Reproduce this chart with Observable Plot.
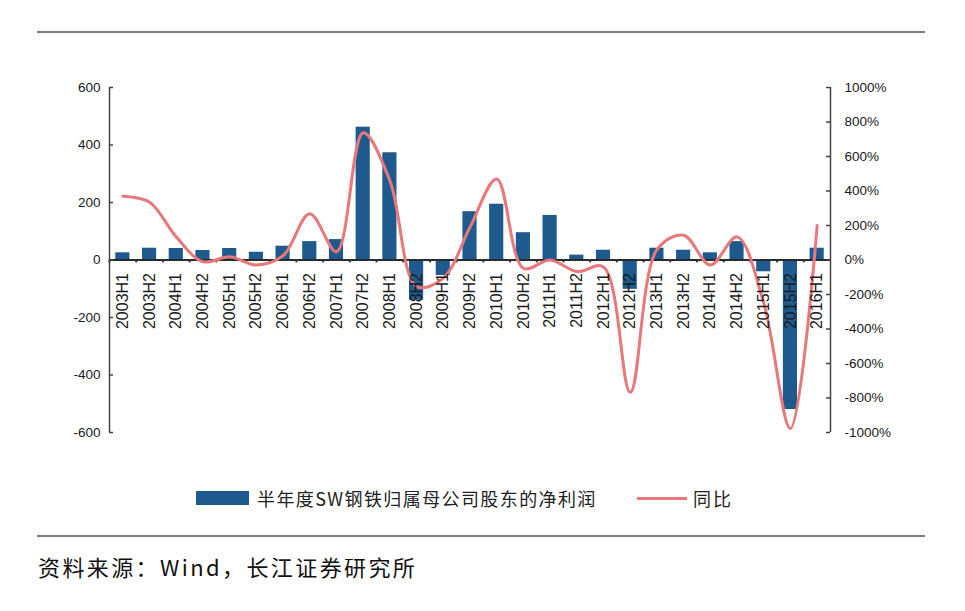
<!DOCTYPE html>
<html>
<head>
<meta charset="utf-8">
<script src="https://cdn.jsdelivr.net/npm/d3@7"></script>
<script src="https://cdn.jsdelivr.net/npm/@observablehq/plot@0.6"></script>
<style>
  html, body { margin: 0; padding: 0; background: #fff; }
  #page { position: relative; width: 965px; height: 611px; overflow: hidden; font-family: "Liberation Sans", Arial, sans-serif; }
  .hline { position: absolute; left: 37px; width: 888px; height: 2px; background: #7d7d7d; }
  #chart { position: absolute; left: 0; top: 40px; }
  #legend { position: absolute; top: 487px; left: 0; width: 965px; height: 24px; font-family: "Noto Sans CJK SC", sans-serif; color: #222; }
  .sw-bar { position: absolute; left: 196px; top: 4px; width: 53px; height: 14px; background: #1f5a8e; }
  .lg-text1 { position: absolute; left: 257px; top: -1px; font-size: 18px; letter-spacing: 1.4px; line-height: 24px; }
  .sw-line { position: absolute; left: 637px; top: 10px; width: 50px; height: 3px; background: #e8787a; }
  .lg-text2 { position: absolute; left: 693px; top: -1px; font-size: 18px; letter-spacing: 2px; line-height: 24px; }
  #source { position: absolute; left: 38px; top: 551px; font-family: "Noto Sans CJK SC", sans-serif; font-size: 22px; letter-spacing: 2.4px; color: #111; line-height: 30px; }
</style>
</head>
<body>
<div id="page">
  <div class="hline" style="top:31px"></div>
  <div id="chart"></div>
  <div id="legend">
    <div class="sw-bar"></div>
    <div class="lg-text1">半年度SW钢铁归属母公司股东的净利润</div>
    <div class="sw-line"></div>
    <div class="lg-text2">同比</div>
  </div>
  <div class="hline" style="top:535px"></div>
  <div id="source">资料来源：Wind，长江证券研究所</div>
</div>
<script>
const categories = ["2003H1","2003H2","2004H1","2004H2","2005H1","2005H2","2006H1","2006H2","2007H1","2007H2","2008H1","2008H2","2009H1","2009H2","2010H1","2010H2","2011H1","2011H2","2012H1","2012H2","2013H1","2013H2","2014H1","2014H2","2015H1","2015H2","2016H1"];
const profit = [25, 41, 40, 33, 40, 27, 48, 64, 71, 462, 373, -140, -54, 168, 194, 95, 155, 17, 34, -102, 41, 34, 25, 64, -41, -520, 41];
const yoy = [370, 335, 134, -10, 19, -29, 25, 268, 48, 738, 460, -153, -105, 190, 470, -48, 0, -67, -40, -767, 60, 144, -29, 134, -250, -977, 200];
const leftTicks = [-600, -400, -200, 0, 200, 400, 600];
const rightTicks = [-1000, -800, -600, -400, -200, 0, 200, 400, 600, 800, 1000];

const ratio = 600 / 1000; // right axis (%) -> left axis units
const data = categories.map((c, i) => ({cat: c, profit: profit[i], yoy: yoy[i]}));

const W = 965, H = 440, mL = 109, mR = 135, mT = 47, mB = 48;
const plotW = W - mL - mR;
const step = plotW / categories.length;

const chart = Plot.plot({
  width: W, height: H,
  marginLeft: mL, marginRight: mR, marginTop: mT, marginBottom: mB,
  style: {fontFamily: "Liberation Sans, Arial, sans-serif", background: "#fff", color: "#1a1a1a"},
  x: {type: "band", domain: categories, paddingInner: 0.47, paddingOuter: 0.235, round: false, axis: null},
  y: {domain: [-600, 600], axis: null},
  marks: [
    Plot.barY(data, {x: "cat", y: "profit", fill: "#1f5a8e"}),
    Plot.ruleY([0], {stroke: "#2b2b2b", strokeWidth: 2}),
    Plot.ruleX(categories, {x: d => d, dx: -step / 2, y1: 0, y2: -10, stroke: "#333", strokeWidth: 2}),
    Plot.line(data, {x: "cat", y: d => d.yoy * ratio, stroke: "#e8787a", strokeWidth: 3, curve: "catmull-rom"}),
    // axis lines
    Plot.ruleX([categories[0]], {dx: -step / 2, y1: -600, y2: 600, stroke: "#444", strokeWidth: 1.5}),
    Plot.ruleX([categories[categories.length - 1]], {dx: step / 2, y1: -600, y2: 600, stroke: "#444", strokeWidth: 1.5}),
    // inward ticks
    Plot.ruleY(leftTicks, {insetRight: plotW - 4, stroke: "#444", strokeWidth: 1.5}),
    Plot.ruleY(rightTicks, {y: d => d * ratio, insetLeft: plotW - 4, stroke: "#444", strokeWidth: 1.5}),
    // tick labels
    Plot.axisY({anchor: "left", label: null, ticks: leftTicks, tickSize: 0, tickPadding: 9, fontSize: 13.5, tickFormat: d => String(d)}),
    Plot.axisY({anchor: "right", label: null, ticks: rightTicks.map(v => v * ratio), tickSize: 0, tickPadding: 14, fontSize: 13.5,
      tickFormat: v => Math.round(v / ratio) + "%"}),
    Plot.text(categories, {x: d => d, y: 0, text: d => d, rotate: -90, textAnchor: "end", lineAnchor: "middle",
      dy: 13, fontSize: 16, fill: "#1a1a1a"})
  ]
});
document.getElementById("chart").appendChild(chart);
</script>
</body>
</html>
